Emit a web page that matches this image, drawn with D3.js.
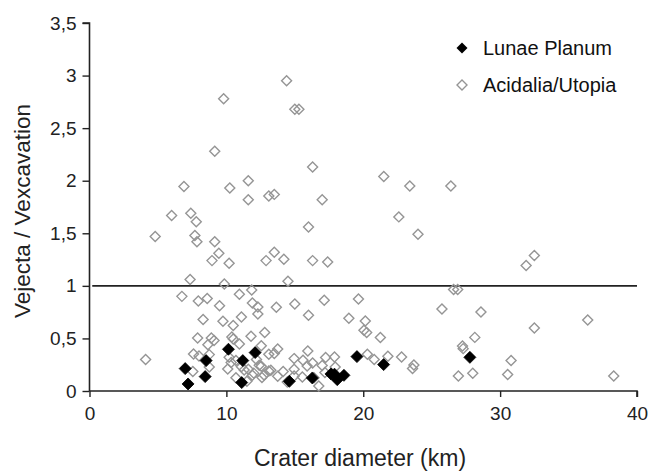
<!DOCTYPE html>
<html><head><meta charset="utf-8">
<script src="https://cdn.jsdelivr.net/npm/d3@7"></script>
<style>
html,body{margin:0;padding:0;background:#fff;}
svg{display:block;font-family:"Liberation Sans",Arial,sans-serif;}
</style></head>
<body>
<svg id="chart" width="648" height="471"></svg>
<script>
// ---- data ----
const lunaeX = [6.99, 7.2, 8.52, 8.45, 10.15, 11.2, 11.12, 12.1, 14.6, 16.28, 17.64, 17.9, 18.1, 18.59, 19.54, 21.49, 27.79];
const lunaeY = [0.213, 0.067, 0.289, 0.137, 0.397, 0.289, 0.08, 0.365, 0.092, 0.124, 0.162, 0.16, 0.108, 0.149, 0.327, 0.251, 0.32];

const acidX = [14.4, 9.8, 15.0, 15.3, 9.15, 16.3, 21.5, 11.6, 6.9, 10.25, 23.4, 26.4, 13.1, 13.5, 11.6, 17.0,
  6.0, 7.4, 7.8, 22.6, 16.0, 4.8, 7.7, 7.85, 24.0, 9.15, 9.45, 8.95, 13.5, 12.9, 14.2, 16.3, 10.2, 17.4, 31.9, 32.5,
  7.35, 14.5, 9.85, 26.6, 26.9, 6.75, 10.95, 11.85, 7.95, 8.6, 11.9, 12.3, 15.0, 13.65, 9.5, 17.15, 19.65, 25.75, 28.6,
  12.3, 16.0, 8.3, 9.75, 10.5, 11.1, 18.95, 36.4, 20.15, 32.5, 20.05, 20.25, 12.8, 11.8, 7.9, 8.9, 10.4, 10.5, 21.25, 28.15,
  8.65, 9.1, 12.55, 10.95, 13.75, 15.95, 27.25, 27.3, 7.6, 8.0, 8.75, 13.1, 13.5, 4.1, 14.95, 15.6, 16.3, 17.25, 17.9,
  20.3, 20.8, 21.8, 22.8, 30.8, 10.2, 10.7, 23.7, 23.6, 8.75, 7.55, 10.1, 11.1, 11.6, 12.0, 12.4, 12.55, 13.25, 13.1,
  12.75, 12.6, 13.75, 10.7, 11.5, 11.9, 14.15, 14.95, 14.95, 15.55, 15.9, 16.75, 16.4, 17.0, 17.2, 17.95, 14.45,
  26.95, 28.0, 30.55, 38.3, 10.35, 11.3, 12.2];
const acidY = [2.95, 2.78, 2.68, 2.68, 2.28, 2.13, 2.04, 2.0, 1.945, 1.93, 1.95, 1.95, 1.855, 1.87, 1.82, 1.82,
  1.67, 1.69, 1.61, 1.656, 1.56, 1.47, 1.48, 1.42, 1.49, 1.42, 1.31, 1.24, 1.32, 1.24, 1.253, 1.24, 1.215, 1.227, 1.193, 1.288,
  1.06, 1.044, 1.018, 0.965, 0.965, 0.90, 0.92, 0.96, 0.856, 0.88, 0.837, 0.80, 0.828, 0.796, 0.81, 0.863, 0.875, 0.78, 0.752,
  0.733, 0.72, 0.68, 0.663, 0.622, 0.704, 0.692, 0.676, 0.666, 0.60, 0.578, 0.556, 0.556, 0.52, 0.504, 0.504, 0.514, 0.495, 0.508, 0.51,
  0.44, 0.48, 0.43, 0.448, 0.40, 0.38, 0.428, 0.403, 0.352, 0.333, 0.346, 0.35, 0.356, 0.30, 0.308, 0.292, 0.266, 0.318, 0.324,
  0.35, 0.30, 0.33, 0.323, 0.289, 0.32, 0.29, 0.247, 0.213, 0.228, 0.185, 0.21, 0.23, 0.206, 0.17, 0.245, 0.235, 0.197, 0.19,
  0.152, 0.128, 0.14, 0.127, 0.092, 0.15, 0.185, 0.206, 0.143, 0.133, 0.238, 0.048, 0.126, 0.243, 0.177, 0.228, 0.086,
  0.143, 0.168, 0.156, 0.143, 0.27, 0.2, 0.3];

const xTicks = [0, 10, 20, 30, 40];
const yTicks = [0, 0.5, 1, 1.5, 2, 2.5, 3, 3.5];
const yTickLabels = ["0", "0,5", "1", "1,5", "2", "2,5", "3", "3,5"];
const refLineY = [1];
const seriesNames = ["Lunae Planum", "Acidalia/Utopia"];
const xTitle = "Crater diameter (km)";
const yTitle = "Vejecta / Vexcavation";

// ---- layout ----
const svg = d3.select("#chart");
const mLeft = 89.5, mRight = 637, mTop = 23, mBottom = 391;
const x = d3.scaleLinear().domain([0, 40]).range([mLeft, mRight]);
const y = d3.scaleLinear().domain([0, 3.5]).range([mBottom, mTop]);
const axisColor = "#222";

// axes
const yAxis = d3.axisLeft(y).tickValues(yTicks).tickSize(7).tickPadding(6)
  .tickFormat((d, i) => yTickLabels[i]);
const gy = svg.append("g").attr("transform", `translate(${mLeft},0)`).call(yAxis);
gy.select(".domain").attr("stroke", axisColor).attr("stroke-width", 1.6).attr("d", `M-7,${mTop}H0V${mBottom}`);
gy.selectAll(".tick line").attr("stroke", axisColor).attr("stroke-width", 1.4);
gy.selectAll(".tick text").attr("font-size", 19).attr("fill", "#222")
  .attr("font-family", "'Liberation Sans',Arial,sans-serif");

const xAxis = d3.axisBottom(x).tickValues(xTicks).tickSize(6).tickPadding(10).tickFormat(d3.format("d"));
const gx = svg.append("g").attr("transform", `translate(0,${mBottom})`).call(xAxis);
gx.select(".domain").attr("stroke", axisColor).attr("stroke-width", 1.6).attr("d", `M${mLeft},0H${mRight}V6`);
gx.selectAll(".tick line").attr("stroke", axisColor).attr("stroke-width", 1.4);
gx.selectAll(".tick text").attr("font-size", 19).attr("fill", "#222")
  .attr("font-family", "'Liberation Sans',Arial,sans-serif");

// reference line at 1
svg.selectAll("line.ref").data(refLineY).enter().append("line")
  .attr("class", "ref")
  .attr("x1", x(0.2)).attr("x2", x(40))
  .attr("y1", d => y(d)).attr("y2", d => y(d))
  .attr("stroke", "#222").attr("stroke-width", 1.6);

// diamond path
const diamond = r => `M0,${-r}L${r},0L0,${r}L${-r},0Z`;

// hollow series
const acid = acidX.map((v, i) => ({x: v, y: acidY[i]}));
svg.append("g").selectAll("path").data(acid).enter().append("path")
  .attr("d", diamond(5))
  .attr("transform", d => `translate(${x(d.x)},${y(d.y)})`)
  .attr("fill", "none").attr("stroke", "#959595").attr("stroke-width", 1.4);

// filled series
const lunae = lunaeX.map((v, i) => ({x: v, y: lunaeY[i]}));
svg.append("g").selectAll("path").data(lunae).enter().append("path")
  .attr("d", diamond(6))
  .attr("transform", d => `translate(${x(d.x)},${y(d.y)})`)
  .attr("fill", "#000").attr("stroke", "#000").attr("stroke-width", 0.8);

// legend
const leg = svg.append("g").attr("transform", "translate(462,48)");
leg.append("path").attr("d", diamond(5.5)).attr("fill", "#000");
leg.append("text").attr("x", 21).attr("y", 7).attr("font-size", 20).attr("fill", "#111").text(seriesNames[0]);
leg.append("path").attr("d", diamond(5)).attr("transform", "translate(0,37)")
  .attr("fill", "none").attr("stroke", "#959595").attr("stroke-width", 1.4);
leg.append("text").attr("x", 21).attr("y", 44).attr("font-size", 20).attr("fill", "#111").text(seriesNames[1]);

// titles
svg.append("text").attr("x", 360).attr("y", 466).attr("text-anchor", "middle")
  .attr("font-size", 23).attr("fill", "#222").text(xTitle);
svg.append("text").attr("transform", `translate(30,211) rotate(-90)`)
  .attr("text-anchor", "middle").attr("font-size", 22.5).attr("fill", "#222").text(yTitle);
</script>
</body></html>
